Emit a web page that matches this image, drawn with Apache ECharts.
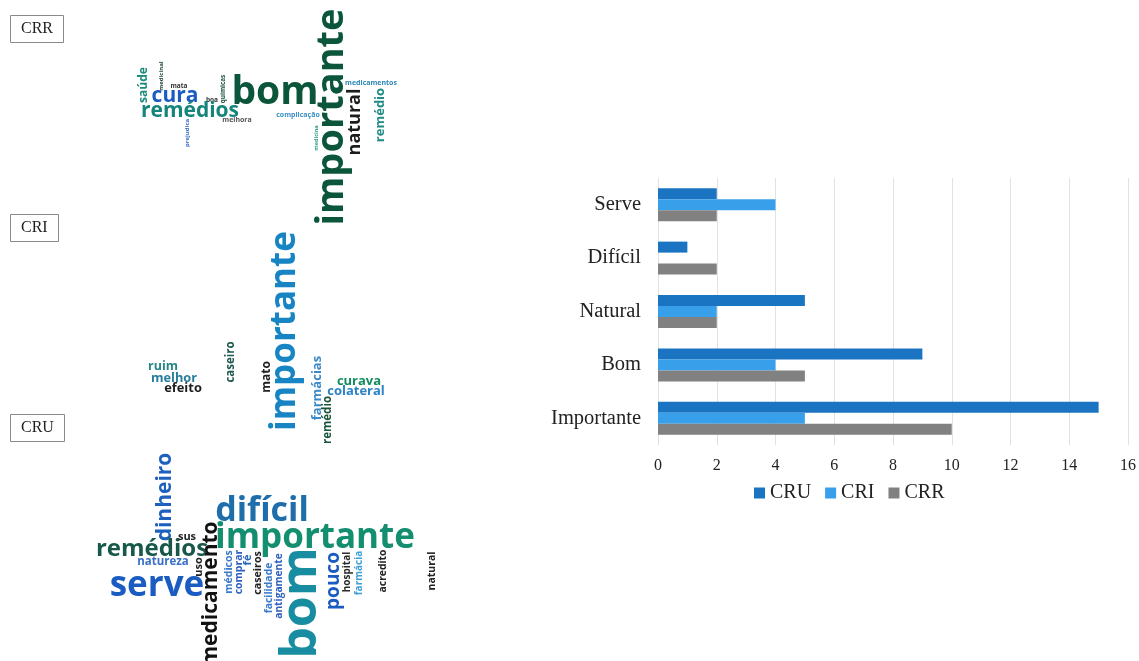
<!DOCTYPE html>
<html>
<head>
<meta charset="utf-8">
<script src="https://cdn.jsdelivr.net/npm/echarts@6/dist/echarts.min.js"></script>
<style>
  html, body { margin: 0; padding: 0; background: #ffffff; }
  #chart { width: 1139px; height: 661px; }
</style>
</head>
<body>
<div id="chart"></div>
<script>
// ---- Bar chart data: frequency of the main terms per group ----
const categories = ['Importante', 'Bom', 'Natural', 'Difícil', 'Serve'];
const seriesNames = ['CRU', 'CRI', 'CRR'];
const cruValues = [15, 9, 5, 1, 2];
const criValues = [5, 4, 2, 0, 4];
const crrValues = [10, 5, 2, 2, 2];
const xTicks = [0, 2, 4, 6, 8, 10, 12, 14, 16];

// ---- Word clouds: the words of each group ----
const crrWords = ['importante', 'bom', 'natural', 'remédio', 'medicamentos', 'complicação', 'medicina',
  'saúde', 'medicinal', 'mata', 'cura', 'boa', 'químicas', 'remédios', 'melhora', 'prejudica'];
const criWords = ['importante', 'farmácias', 'remédio', 'curava', 'colateral', 'mato', 'caseiro',
  'ruim', 'melhor', 'efeito'];
const cruWords = ['bom', 'importante', 'difícil', 'dinheiro', 'remédios', 'sus', 'medicamento', 'natureza',
  'uso', 'serve', 'médicos', 'comprar', 'fé', 'caseiros', 'facilidade', 'antigamente', 'pouco',
  'hospital', 'farmácia', 'acredito', 'natural'];

// Word placement inside each cloud panel: [x, y, fontSize, rotation, colour]
const crrPlacement = [
  [202, 117, 38, 90, '#0b563a'],
  [145, 93, 39, 0, '#0b563a'],
  [225, 122, 18, 90, '#1c1c1c'],
  [250, 115, 13, 90, '#1f8c86'],
  [241, 83, 7, 0, '#2a88b8'],
  [168, 115, 7, 0, '#3b8fc4'],
  [186, 138, 5.5, 90, '#2a9c8c'],
  [14, 85, 12, 90, '#1c8c7a'],
  [31, 76, 6, 90, '#244d3c'],
  [49, 86, 6.5, 0, '#333333'],
  [45, 96, 21, 0, '#1b5cc2'],
  [82, 100, 6.5, 0, '#333333'],
  [93, 89, 6.3, 90, '#1e5040'],
  [60, 111, 21, 0, '#15847a'],
  [107, 120, 7, 0, '#555555'],
  [57, 133, 6, 90, '#3b6fc8']
];
const criPlacement = [
  [155, 106, 35, 90, '#1785c4'],
  [187, 163, 13, 90, '#3a89c9'],
  [198, 195, 11.5, 90, '#1b553b'],
  [229, 156, 13, 0, '#158c60'],
  [226, 166, 13, 0, '#2c83c6'],
  [137, 152, 12, 90, '#222222'],
  [101, 137, 11.5, 90, '#1c584e'],
  [33, 141, 12.5, 0, '#268886'],
  [44, 153, 12.8, 0, '#277d9e'],
  [53, 163, 12.9, 0, '#1e1e1e']
];
const cruPlacement = [
  [212, 158, 50, 90, '#188da1'],
  [225, 93, 35, 0, '#138e6e'],
  [172, 66, 34, 0, '#1d6eab'],
  [75, 52, 21, 90, '#1e60bd'],
  [62, 104, 24, 0, '#18584a'],
  [97, 92, 11, 0, '#222222'],
  [121, 149, 21, 90, '#111111'],
  [73, 117, 11.5, 0, '#3a70c8'],
  [109, 122, 11, 90, '#222222'],
  [67, 141, 35, 0, '#1a5cc2'],
  [139, 127, 10.5, 90, '#3a7acc'],
  [149, 127, 10.5, 90, '#2e5fc0'],
  [158, 115, 11, 90, '#2a68b8'],
  [168, 128, 10.7, 90, '#222222'],
  [179, 143, 10.4, 90, '#3a7acc'],
  [189, 141, 10.2, 90, '#2e60c0'],
  [244, 136, 19, 90, '#1a5cc2'],
  [257, 127, 10, 90, '#2a2a2a'],
  [269, 128, 10, 90, '#40a0d8'],
  [293, 126, 10.3, 90, '#222222'],
  [342, 126, 10.5, 90, '#222222']
];

// Cloud panels: [left, top, width, height] in page pixels
const cloudPanels = [
  [130, 0, 280, 230],
  [130, 225, 270, 220],
  [90, 445, 360, 216]
];
const cloudLabels = ['CRR', 'CRI', 'CRU'];
const cloudLabelTops = [15, 214, 414];

const serif = 'Liberation Serif';
const cloudFont = 'Open Sans';

function cloudSeries(idx, words, placement) {
  return {
    type: 'scatter',
    xAxisIndex: idx + 1,
    yAxisIndex: idx + 1,
    symbolSize: 0,
    silent: true,
    clip: false,
    animation: false,
    itemStyle: { opacity: 1 },
    data: words.map(function (w, i) {
      const p = placement[i];
      return {
        name: w,
        value: [p[0], p[1]],
        label: {
          show: true,
          position: 'inside',
          formatter: w,
          fontSize: p[2],
          rotate: p[3],
          color: p[4],
          opacity: 1,
          fontFamily: cloudFont,
          fontWeight: 'bold',
          align: 'center',
          verticalAlign: 'middle'
        }
      };
    })
  };
}

const grids = [{ left: 658, top: 178, width: 470, height: 267, containLabel: false }];
const xAxes = [{
  type: 'value', gridIndex: 0, min: 0, max: 16, interval: 2,
  axisLine: { show: false }, axisTick: { show: false },
  splitLine: { show: true, lineStyle: { color: '#e2e2e2', width: 1 } },
  axisLabel: {
    fontFamily: serif, fontSize: 16, color: '#222', margin: 13,
    formatter: function (v) { return xTicks.indexOf(v) >= 0 ? String(v) : ''; }
  }
}];
const yAxes = [{
  type: 'category', gridIndex: 0, data: categories,
  axisLine: { show: false }, axisTick: { show: false },
  axisLabel: { fontFamily: serif, fontSize: 20.5, color: '#222', margin: 17 }
}];
cloudPanels.forEach(function (c, i) {
  grids.push({ left: c[0], top: c[1], width: c[2], height: c[3] });
  xAxes.push({ type: 'value', gridIndex: i + 1, min: 0, max: c[2], show: false });
  yAxes.push({ type: 'value', gridIndex: i + 1, min: 0, max: c[3], inverse: true, show: false });
});

const barColors = { CRU: '#1a74c2', CRI: '#38a0ea', CRR: '#818181' };
const barValues = { CRU: cruValues, CRI: criValues, CRR: crrValues };

const barSeries = seriesNames.map(function (n) {
  return {
    name: n, type: 'bar', xAxisIndex: 0, yAxisIndex: 0,
    data: barValues[n], barWidth: 11, barGap: '0%',
    itemStyle: { color: barColors[n] }
  };
});

const option = {
  backgroundColor: '#ffffff',
  animation: false,
  title: cloudLabels.map(function (t, i) {
    return {
      text: t, left: 10, top: cloudLabelTops[i],
      borderColor: '#8a8a8a', borderWidth: 1, padding: [6, 11],
      textStyle: {
        fontFamily: serif, fontSize: 16, fontWeight: 'normal', color: '#222',
        width: 32, align: 'center'
      }
    };
  }),
  legend: {
    data: seriesNames, left: 749, top: 478,
    icon: 'rect', itemWidth: 11, itemHeight: 11, itemGap: 14,
    textStyle: { fontFamily: serif, fontSize: 20, color: '#222' }
  },
  grid: grids,
  xAxis: xAxes,
  yAxis: yAxes,
  series: barSeries.concat([
    cloudSeries(0, crrWords, crrPlacement),
    cloudSeries(1, criWords, criPlacement),
    cloudSeries(2, cruWords, cruPlacement)
  ])
};

const chart = echarts.init(document.getElementById('chart'), null, { renderer: 'canvas' });
chart.setOption(option);
</script>
</body>
</html>
